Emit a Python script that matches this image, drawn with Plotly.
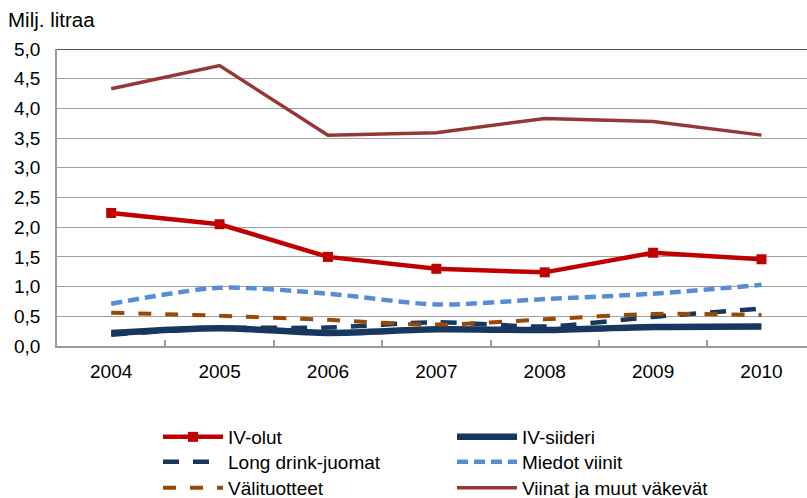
import plotly.graph_objects as go

years = ["2004", "2005", "2006", "2007", "2008", "2009", "2010"]
iv_olut = [2.24, 2.05, 1.50, 1.30, 1.24, 1.57, 1.46]
iv_siideri = [0.22, 0.30, 0.22, 0.28, 0.27, 0.32, 0.33]
long_drink = [0.19, 0.30, 0.31, 0.40, 0.33, 0.49, 0.63]
miedot_viinit = [0.71, 0.98, 0.88, 0.70, 0.79, 0.88, 1.03]
valituotteet = [0.56, 0.51, 0.44, 0.36, 0.45, 0.54, 0.52]
viinat = [4.33, 4.72, 3.55, 3.59, 3.83, 3.78, 3.55]
y_ticks = [0, 0.5, 1, 1.5, 2, 2.5, 3, 3.5, 4, 4.5, 5]

FONT = "Liberation Sans, Arial, sans-serif"
FS = 19

fig = go.Figure()
fig.add_trace(go.Scatter(x=years, y=iv_olut, name="IV-olut", mode="lines+markers",
                         line=dict(color="#C00000", width=4.5),
                         marker=dict(symbol="square", size=10, color="#C00000"),
                         legend="legend"))
fig.add_trace(go.Scatter(x=years, y=iv_siideri, name="IV-siideri", mode="lines",
                         line=dict(color="#17375E", width=6.5, shape="spline", smoothing=0.8),
                         legend="legend2"))
fig.add_trace(go.Scatter(x=years, y=long_drink, name="Long drink-juomat", mode="lines",
                         line=dict(color="#17375E", width=4.5, dash="16px,14px", shape="spline", smoothing=0.8),
                         legend="legend3"))
fig.add_trace(go.Scatter(x=years, y=miedot_viinit, name="Miedot viinit", mode="lines",
                         line=dict(color="#558ED5", width=4.5, dash="11px,6px", shape="spline", smoothing=0.8),
                         legend="legend4"))
fig.add_trace(go.Scatter(x=years, y=valituotteet, name="Välituotteet", mode="lines",
                         line=dict(color="#984807", width=4, dash="13px,14px", shape="spline", smoothing=0.8),
                         legend="legend5"))
fig.add_trace(go.Scatter(x=years, y=viinat, name="Viinat ja muut väkevät", mode="lines",
                         line=dict(color="#953735", width=3.5),
                         legend="legend6"))

# dark top border line at 5,0
fig.add_shape(type="line", xref="paper", yref="y", x0=0, x1=1, y0=5, y1=5,
              line=dict(color="#1a1a1a", width=1.5), layer="above")

fig.add_annotation(text="Milj. litraa", xref="paper", yref="paper", x=-0.068, y=1.098,
                   xanchor="left", yanchor="middle", showarrow=False,
                   font=dict(family=FONT, size=20.5, color="black"))

legend_common = dict(orientation="v", xref="container", yref="container",
                     xanchor="left", yanchor="top", bgcolor="rgba(0,0,0,0)",
                     font=dict(family=FONT, size=FS, color="black"),
                     itemwidth=60, tracegroupgap=0)

col_x = [158, 452]
row_top = [418, 443, 469]
legends = {}
for i in range(6):
    key = "legend" if i == 0 else f"legend{i + 1}"
    legends[key] = dict(x=col_x[i % 2] / 807, y=1 - row_top[i // 2] / 498, **legend_common)

fig.update_layout(
    width=807, height=498,
    margin=dict(l=57, r=0, t=49, b=152, autoexpand=False),
    paper_bgcolor="white", plot_bgcolor="white",
    separators=", ",
    font=dict(family=FONT, size=FS, color="black"),
    showlegend=True,
    xaxis=dict(type="category", range=[-0.5, 6.42], showgrid=False,
               showline=True, linecolor="#9a9a9a", linewidth=1.5,
               ticks="inside", tickson="boundaries", ticklen=6, tickwidth=1.5,
               tickcolor="#9a9a9a", ticklabelstandoff=7, tickangle=0,
               tickfont=dict(family=FONT, size=FS, color="black"), zeroline=False),
    yaxis=dict(range=[0, 5], tickvals=y_ticks, tickformat=".1f",
               showgrid=True, gridcolor="#a0a0a0", gridwidth=1,
               showline=True, linecolor="#9a9a9a", linewidth=1.5,
               ticks="", ticklabelstandoff=11, zeroline=False,
               tickfont=dict(family=FONT, size=FS, color="black")),
    **legends,
)

fig.write_html("out.html", post_script="document.body.style.margin='0';",
               config={"displayModeBar": False})
